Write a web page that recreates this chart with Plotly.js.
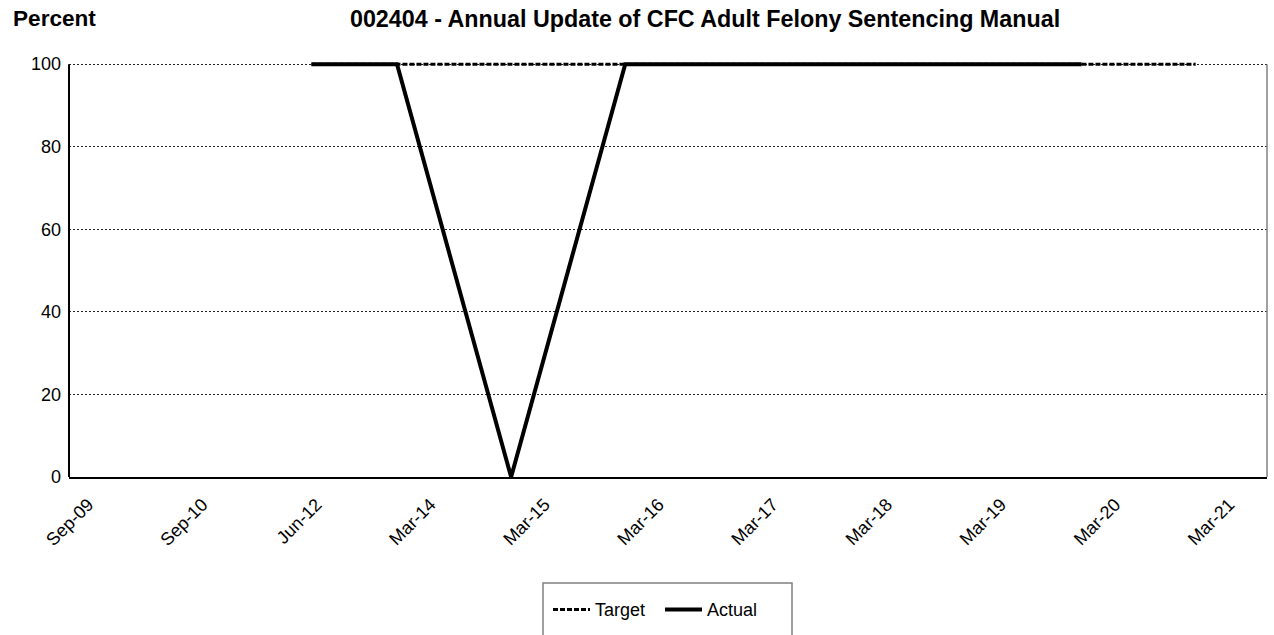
<!DOCTYPE html>
<html>
<head>
<meta charset="utf-8">
<script src="https://cdn.plot.ly/plotly-3.0.1.min.js"></script>
<style>
  html, body { margin: 0; padding: 0; background: #fff; }
  #chart { width: 1274px; height: 635px; }
</style>
</head>
<body>
<div id="chart"></div>
<script>
// Category axis: 42 periods (indices 0..41), labelled every 4th period
const tickLabels = ['Sep-09', 'Sep-10', 'Jun-12', 'Mar-14', 'Mar-15', 'Mar-16', 'Mar-17', 'Mar-18', 'Mar-19', 'Mar-20', 'Mar-21'];
const tickIndex = [0, 4, 8, 12, 16, 20, 24, 28, 32, 36, 40];
const periodCount = 42;

// Series (period index, percent)
const targetIdx = [8, 11, 15, 19, 23, 27, 31, 35, 39];
const targetVal = [100, 100, 100, 100, 100, 100, 100, 100, 100];
const actualIdx = [8, 11, 15, 19, 23, 27, 31, 35];
const actualVal = [100, 100, 0, 100, 100, 100, 100, 100];

const yTicks = [0, 20, 40, 60, 80, 100];

const FONT = 'Arial, "Liberation Sans", sans-serif';
const PH = 417; // plot height in px (range 0..101 so 100 sits at y=64)

const traces = [
  {
    name: 'Target', x: targetIdx, y: targetVal, type: 'scatter', mode: 'lines',
    line: { color: '#000', width: 3, dash: '5px,2px' }, hoverinfo: 'x+y'
  },
  {
    name: 'Actual', x: actualIdx, y: actualVal, type: 'scatter', mode: 'lines',
    line: { color: '#000', width: 4 }, hoverinfo: 'x+y'
  }
];

const layout = {
  width: 1274, height: 635,
  margin: { l: 69, r: 7, t: 60, b: 158, pad: 0 },
  paper_bgcolor: '#fff', plot_bgcolor: '#fff',
  font: { family: FONT, size: 18, color: '#000' },
  title: {
    text: '<b>002404 - Annual Update of CFC Adult Felony Sentencing Manual</b>',
    font: { family: FONT, size: 23.3, color: '#000' },
    x: 0.5534, xanchor: 'center', xref: 'container',
    y: 0.970, yanchor: 'middle', yref: 'container'
  },
  showlegend: true,
  legend: {
    orientation: 'h', x: (548 - 69) / 1198, xanchor: 'left', y: -114.2 / PH, yanchor: 'top',
    font: { family: FONT, size: 18, color: '#000' },
    itemwidth: 37, entrywidth: 60,
    bgcolor: 'rgba(0,0,0,0)', borderwidth: 0, traceorder: 'normal'
  },
  xaxis: {
    type: 'linear', range: [-0.5, periodCount - 0.5],
    tickmode: 'array', tickvals: tickIndex, ticktext: tickLabels,
    tickangle: -45, ticks: '', showgrid: false, zeroline: false,
    ticklabelstandoff: 8, ticklabelshift: 5,
    showline: true, linecolor: '#000', linewidth: 2,
    tickfont: { family: FONT, size: 18, color: '#000' },
    fixedrange: true
  },
  yaxis: {
    range: [0, 101], tickmode: 'array', tickvals: yTicks,
    ticks: '', ticklabelstandoff: 7,
    showgrid: true, gridcolor: '#222', gridwidth: 1, griddash: '2px,2px',
    zeroline: false, showline: false,
    tickfont: { family: FONT, size: 18, color: '#000' },
    fixedrange: true
  },
  shapes: [
    { type: 'line', xref: 'paper', yref: 'y', x0: 0, x1: 0, y0: 0, y1: 100,
      line: { color: '#000', width: 2 } },
    { type: 'line', xref: 'paper', yref: 'y', x0: 1, x1: 1, y0: 0, y1: 100,
      line: { color: '#808080', width: 1.5 } },
    { type: 'rect', xref: 'paper', yref: 'paper',
      x0: (543 - 69) / 1198, x1: (792 - 69) / 1198,
      y0: (477 - 583) / PH, y1: (477 - 650) / PH,
      line: { color: '#808080', width: 1.5 }, fillcolor: 'rgba(0,0,0,0)' }
  ],
  annotations: [
    { text: '<b>Percent</b>', xref: 'paper', yref: 'paper',
      x: (11 - 69) / 1198, xanchor: 'left', y: (477 - 19) / PH, yanchor: 'middle',
      showarrow: false, font: { family: FONT, size: 22.6, color: '#000' } }
  ]
};

Plotly.newPlot('chart', traces, layout, { displayModeBar: false, responsive: false });
</script>
</body>
</html>
